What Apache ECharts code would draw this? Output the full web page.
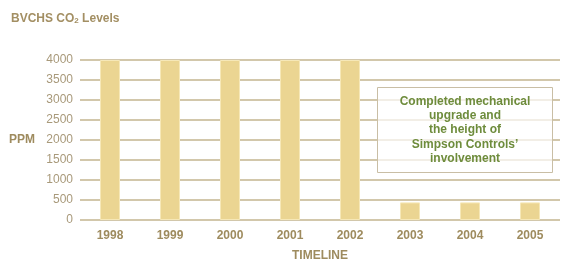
<!DOCTYPE html>
<html>
<head>
<meta charset="utf-8">
<script src="https://cdn.jsdelivr.net/npm/echarts@6/dist/echarts.min.js"></script>
<style>html,body{margin:0;padding:0;background:#fff}#c{width:575px;height:272px}</style>
</head>
<body>
<div id="c"></div>
<script>
const years = ['1998','1999','2000','2001','2002','2003','2004','2005'];
const co2 = [4000, 4000, 4000, 4000, 4000, 440, 440, 440];
const yTicks = [0, 500, 1000, 1500, 2000, 2500, 3000, 3500, 4000];
const noteLines = ['Completed mechanical', 'upgrade and', 'the height of', 'Simpson Controls\u2019', 'involvement'];

const FONT = 'Liberation Sans';
const chart = echarts.init(document.getElementById('c'), null, {renderer: 'canvas'});

const noteGraphics = [{
  type: 'rect',
  shape: {x: 377.5, y: 87.5, width: 175, height: 85},
  style: {fill: 'rgba(255,255,255,0.7)', stroke: '#c9bea5', lineWidth: 1},
  z: 10
}];
noteLines.forEach(function (line, i) {
  noteGraphics.push({
    type: 'text',
    x: 465,
    y: 101.5 + i * 14.3,
    style: {
      text: line,
      fill: '#6e8c3c',
      fontSize: 12,
      fontWeight: 'bold',
      fontFamily: FONT,
      align: 'center',
      verticalAlign: 'middle'
    },
    z: 11
  });
});

chart.setOption({
  animation: false,
  backgroundColor: '#ffffff',
  textStyle: {fontFamily: FONT},
  grid: {left: 80, right: 15, top: 60, bottom: 52, containLabel: false, outerBoundsMode: 'none'},
  xAxis: {
    type: 'category',
    data: years,
    axisLine: {show: false},
    axisTick: {show: false},
    axisLabel: {color: '#9e8b5e', fontWeight: 'bold', fontSize: 12, fontFamily: FONT, margin: 10},
    name: 'TIMELINE',
    nameLocation: 'middle',
    nameGap: 30,
    nameTextStyle: {color: '#9e8b5e', fontWeight: 'bold', fontSize: 12, fontFamily: FONT}
  },
  yAxis: {
    type: 'value',
    min: yTicks[0],
    max: yTicks[yTicks.length - 1],
    interval: yTicks[1] - yTicks[0],
    axisLine: {show: false},
    axisTick: {show: false},
    axisLabel: {color: '#a8997a', fontSize: 12, fontFamily: FONT, margin: 7, formatter: function (v) { return String(v); }},
    splitLine: {show: true, lineStyle: {color: '#d2c7ab', width: 2}},
    name: 'PPM',
    nameLocation: 'middle',
    nameRotate: 0,
    nameGap: 45,
    nameTextStyle: {color: '#9e8b5e', fontWeight: 'bold', fontSize: 12, fontFamily: FONT}
  },
  series: [{
    type: 'bar',
    data: co2,
    barWidth: 20,
    itemStyle: {color: '#ebd592', borderColor: '#f6e8b8', borderWidth: 1},
    z: 3
  }],
  title: {
    left: 6,
    top: 8,
    text: '{a|BVCHS CO}{s|2}{a| Levels}',
    textStyle: {
      fontFamily: FONT,
      rich: {
        a: {color: '#a38f63', fontWeight: 'bold', fontSize: 12, fontFamily: FONT},
        s: {color: '#a38f63', fontWeight: 'bold', fontSize: 8, fontFamily: FONT, verticalAlign: 'bottom', padding: [4, 0, 0, 0]}
      }
    }
  },
  graphic: noteGraphics
});
</script>
</body>
</html>
